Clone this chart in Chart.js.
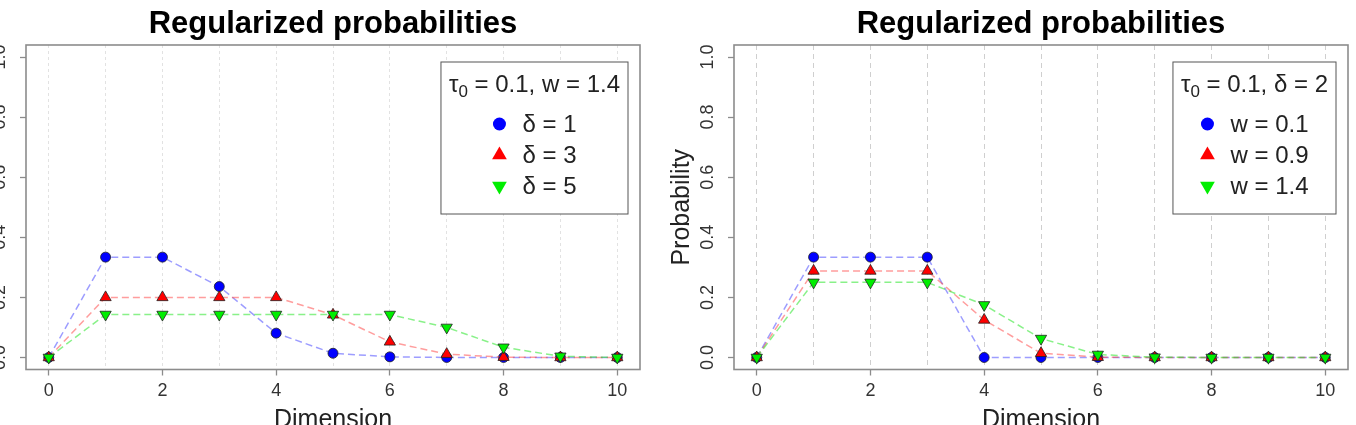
<!DOCTYPE html>
<html>
<head>
<meta charset="utf-8">
<script src="https://cdn.jsdelivr.net/npm/chart.js@4.4.1/dist/chart.umd.min.js"></script>
<style>
  html, body { margin: 0; padding: 0; background: #fff; }
  #wrap { position: relative; width: 1356px; height: 425px; overflow: hidden; background: #fff; }
  .panel { position: absolute; top: 0; width: 700px; height: 445px; }
</style>
</head>
<body>
<div id="wrap">
  <div class="panel" style="left:-52px"><canvas id="c1" width="700" height="445"></canvas></div>
  <div class="panel" style="left:656px"><canvas id="c2" width="700" height="445"></canvas></div>
</div>
<script>
// ---------- data ----------
const dims = [0, 1, 2, 3, 4, 5, 6, 7, 8, 9, 10];
const xTickValues = [0, 2, 4, 6, 8, 10];
const yTickValues = [0, 0.2, 0.4, 0.6, 0.8, 1.0];

const chartTitle = 'Regularized probabilities';
const xAxisTitle = 'Dimension';
const yAxisTitle = 'Probability';

// left panel: tau0 = 0.1, w = 1.4, varying delta
const leftLegendTitle = ['τ', '0', ' = 0.1, w = 1.4'];
const leftLabels = ['δ = 1', 'δ = 3', 'δ = 5'];
const leftDelta1 = [0, 0.334, 0.334, 0.236, 0.081, 0.014, 0.002, 0.0, 0.0, 0.0, 0.0];
const leftDelta3 = [0, 0.2, 0.2, 0.2, 0.2, 0.142, 0.052, 0.011, 0.001, 0.0, 0.0];
const leftDelta5 = [0, 0.143, 0.143, 0.143, 0.143, 0.143, 0.143, 0.1, 0.034, 0.004, 0.0];

// right panel: tau0 = 0.1, delta = 2, varying w
const rightLegendTitle = ['τ', '0', ' = 0.1, δ = 2'];
const rightLabels = ['w = 0.1', 'w = 0.9', 'w = 1.4'];
const rightW01 = [0, 0.334, 0.334, 0.334, 0.0, 0.0, 0.0, 0.0, 0.0, 0.0, 0.0];
const rightW09 = [0, 0.288, 0.288, 0.288, 0.125, 0.014, 0.001, 0.0, 0.0, 0.0, 0.0];
const rightW14 = [0, 0.25, 0.25, 0.25, 0.175, 0.063, 0.01, 0.001, 0.0, 0.0, 0.0];

// ---------- styles ----------
const FONT = '"Liberation Sans", Arial, Helvetica, sans-serif';
const seriesStyle = [
  { fill: '#0000ff', line: 'rgba(60,60,255,0.5)', pointStyle: 'circle', rotation: 0, radius: 5 },
  { fill: '#ff0000', line: 'rgba(255,60,60,0.5)', pointStyle: 'triangle', rotation: 0, radius: 6.5 },
  { fill: '#00ee00', line: 'rgba(40,230,40,0.55)', pointStyle: 'triangle', rotation: 180, radius: 6.5 }
];

function makeDatasets(labels, series) {
  return series.map((vals, i) => ({
    label: labels[i],
    data: dims.map((d, k) => ({ x: d, y: vals[k] })),
    borderColor: seriesStyle[i].line,
    borderWidth: 1.5,
    borderDash: [7, 4],
    pointStyle: seriesStyle[i].pointStyle,
    pointRotation: seriesStyle[i].rotation,
    pointRadius: seriesStyle[i].radius,
    pointBackgroundColor: seriesStyle[i].fill,
    pointBorderColor: '#222',
    pointBorderWidth: 0.8,
    tension: 0,
    order: 2 - i
  }));
}

const boxPlugin = {
  id: 'boxAndTitle',
  afterDraw(chart) {
    const { ctx, chartArea: a } = chart;
    ctx.save();
    ctx.strokeStyle = '#8c8c8c';
    ctx.lineWidth = 1.6;
    ctx.strokeRect(a.left, a.top, a.right - a.left, a.bottom - a.top);
    ctx.fillStyle = '#000';
    ctx.font = 'bold 31px ' + FONT;
    ctx.textAlign = 'center';
    ctx.textBaseline = 'alphabetic';
    ctx.fillText(chartTitle, (a.left + a.right) / 2, 33);
    ctx.restore();
  }
};

const legendPlugin = {
  id: 'rLegend',
  afterDraw(chart, args, opts) {
    const { ctx, chartArea: a } = chart;
    const ds = chart.data.datasets;
    const tparts = opts.titleParts;
    ctx.save();
    const fMain = '24px ' + FONT;
    const fSub = '17px ' + FONT;
    ctx.font = fMain;
    const w0 = ctx.measureText(tparts[0]).width;
    const w2 = ctx.measureText(tparts[2]).width;
    ctx.font = fSub;
    const w1 = ctx.measureText(tparts[1]).width;
    const titleW = w0 + w1 + w2;
    const boxW = titleW + 16;
    const boxRight = a.right - 12;
    const boxLeft = boxRight - boxW;
    const boxTop = a.top + 17;
    const boxH = 152;
    ctx.fillStyle = '#fff';
    ctx.fillRect(boxLeft, boxTop, boxW, boxH);
    ctx.strokeStyle = '#555';
    ctx.lineWidth = 1;
    ctx.strokeRect(boxLeft, boxTop, boxW, boxH);
    // title
    const cx = boxLeft + boxW / 2;
    let tx = cx - titleW / 2;
    const ty = boxTop + 30;
    ctx.fillStyle = '#222';
    ctx.textAlign = 'left';
    ctx.textBaseline = 'alphabetic';
    ctx.font = fMain; ctx.fillText(tparts[0], tx, ty); tx += w0;
    ctx.font = fSub; ctx.fillText(tparts[1], tx, ty + 5); tx += w1;
    ctx.font = fMain; ctx.fillText(tparts[2], tx, ty);
    // entries
    ctx.font = fMain;
    let maxW = 0;
    ds.forEach(d => { maxW = Math.max(maxW, ctx.measureText(d.label).width); });
    const markW = 14, gap = 16;
    const blockW = markW + gap + maxW;
    const mx = cx - blockW / 2 + markW / 2;
    const textX = mx + markW / 2 + gap;
    ds.forEach((d, i) => {
      const y = boxTop + 62 + i * 31;
      ctx.fillStyle = d.pointBackgroundColor;
      Chart.helpers.drawPoint(ctx, {
        pointStyle: d.pointStyle, rotation: d.pointRotation,
        radius: d.pointStyle === 'circle' ? 6.5 : 8.5, borderWidth: 0
      }, mx, y);
      ctx.fillStyle = '#222';
      ctx.textBaseline = 'middle';
      ctx.fillText(d.label, textX, y + 1);
    });
    ctx.restore();
  }
};

function makeChart(id, labels, series, legendTitle, gridColor, gridDash) {
  return new Chart(document.getElementById(id), {
    type: 'line',
    data: { datasets: makeDatasets(labels, series) },
    plugins: [boxPlugin, legendPlugin],
    options: {
      responsive: false,
      animation: false,
      events: [],
      layout: { padding: { left: 0, top: 45, right: 8, bottom: 0 } },
      plugins: {
        legend: { display: false },
        tooltip: { enabled: false },
        title: { display: false },
        rLegend: { titleParts: legendTitle }
      },
      scales: {
        x: {
          type: 'linear',
          min: -0.4, max: 10.4,
          afterBuildTicks: s => { s.ticks = dims.map(v => ({ value: v })); },
          afterFit: s => { s.height = 445 - 369.5; },
          grid: {
            drawOnChartArea: true,
            color: gridColor,
            lineWidth: 1,
            tickLength: 6,
            tickWidth: 1.3,
            tickColor: c => (xTickValues.includes(c.tick.value) ? '#8c8c8c' : 'rgba(0,0,0,0)')
          },
          border: { display: false, dash: gridDash },
          ticks: {
            autoSkip: false, maxRotation: 0, minRotation: 0,
            padding: 5,
            color: '#333',
            font: { family: FONT, size: 18 },
            callback: v => (xTickValues.includes(v) ? String(v) : '')
          },
          title: {
            display: true, text: xAxisTitle, color: '#222',
            font: { family: FONT, size: 25 }, padding: { top: 0, bottom: 10 }
          }
        },
        y: {
          type: 'linear',
          min: -0.04, max: 1.04,
          afterBuildTicks: s => { s.ticks = yTickValues.map(v => ({ value: v })); },
          afterFit: s => { s.width = 78; },
          grid: {
            drawOnChartArea: false,
            tickLength: 6,
            tickWidth: 1.3,
            tickColor: '#8c8c8c'
          },
          border: { display: false },
          ticks: {
            minRotation: 90, maxRotation: 90,
            crossAlign: 'center',
            padding: 7.5,
            color: '#333',
            font: { family: FONT, size: 18 },
            callback: v => Number(v).toFixed(1)
          },
          title: {
            display: true, text: yAxisTitle, color: '#222',
            font: { family: FONT, size: 25 }, padding: { top: 11, bottom: 0 }
          }
        }
      }
    }
  });
}

makeChart('c1', leftLabels, [leftDelta1, leftDelta3, leftDelta5], leftLegendTitle, '#e2e2e2', [3, 3]);
makeChart('c2', rightLabels, [rightW01, rightW09, rightW14], rightLegendTitle, '#cfcfcf', [5, 4]);
</script>
</body>
</html>
